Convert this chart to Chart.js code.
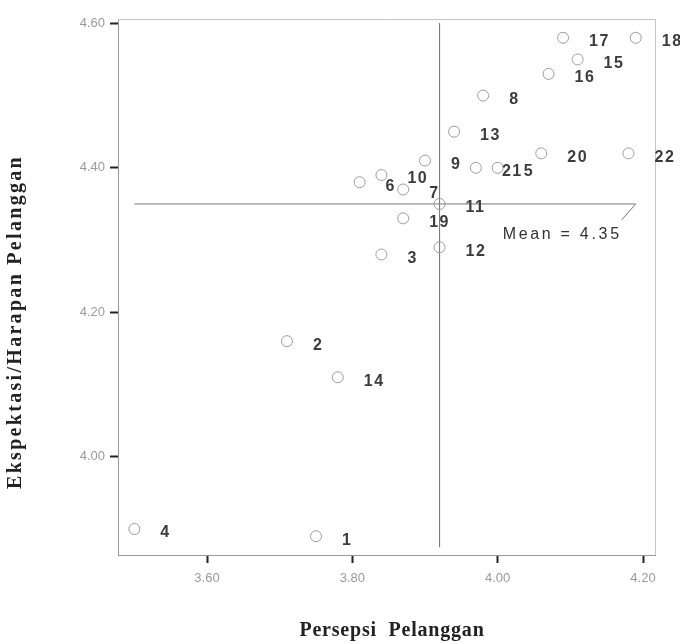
<!DOCTYPE html>
<html><head><meta charset="utf-8">
<script src="https://cdn.jsdelivr.net/npm/chart.js@4.4.1/dist/chart.umd.min.js"></script>
<style>html,body{margin:0;padding:0;background:#fff}canvas{display:block}</style>
</head><body>
<canvas id="c" width="680" height="644"></canvas>
<script>
// ---- data ----
const pointLabels = ['1','2','3','4','5','6','7','8','9','10','11','12','13','14','15','16','17','18','19','20','21','22'];
const persepsi   = [3.75,3.71,3.84,3.50,4.00,3.81,3.87,3.98,3.90,3.84,3.92,3.92,3.94,3.78,4.11,4.07,4.09,4.19,3.87,4.06,3.97,4.18];
const ekspektasi = [3.89,4.16,4.28,3.90,4.40,4.38,4.37,4.50,4.41,4.39,4.35,4.29,4.45,4.11,4.55,4.53,4.58,4.58,4.33,4.42,4.40,4.42];
const xTicks = [3.60, 3.80, 4.00, 4.20];
const yTicks = [4.00, 4.20, 4.40, 4.60];
const xRange = [3.4775, 4.2165];
const yRange = [3.864, 4.606];
const meanX = 3.92;
const meanY = 4.35;
const hLineExtent = [3.50, 4.19];
const vLineExtent = [3.875, 4.60];
const xTitle = 'Persepsi  Pelanggan';
const yTitle = 'Ekspektasi/Harapan Pelanggan';
const meanLabel = 'Mean = 4.35';

const points = persepsi.map((x, i) => ({x, y: ekspektasi[i]}));

const sansFont = '"Liberation Sans", Arial, sans-serif';
const serifFont = '"Liberation Serif", "Times New Roman", serif';

const decorPlugin = {
  id: 'decor',
  beforeDatasetsDraw(chart) {
    const {ctx, chartArea: a} = chart;
    ctx.save();
    ctx.strokeStyle = '#c4c4c4';
    ctx.lineWidth = 1;
    ctx.beginPath();
    ctx.moveTo(a.left, a.top + 0.5);
    ctx.lineTo(a.right + 0.5, a.top + 0.5);
    ctx.lineTo(a.right + 0.5, a.bottom);
    ctx.stroke();
    ctx.restore();
  },
  afterDatasetsDraw(chart) {
    const {ctx} = chart;
    const xs = chart.scales.x, ys = chart.scales.y;
    ctx.save();
    // point labels
    const meta = chart.getDatasetMeta(0);
    ctx.fillStyle = '#3c3c3c';
    ctx.font = 'bold 16px ' + sansFont;
    ctx.letterSpacing = '1.5px';
    ctx.textAlign = 'left';
    ctx.textBaseline = 'middle';
    meta.data.forEach((el, i) => {
      ctx.fillText(pointLabels[i], el.x + 26, el.y + 4);
    });
    // mean label with leader
    const ex = xs.getPixelForValue(hLineExtent[1]);
    const ey = ys.getPixelForValue(meanY);
    ctx.strokeStyle = '#777';
    ctx.lineWidth = 1;
    ctx.beginPath();
    ctx.moveTo(ex, ey);
    ctx.lineTo(ex - 14, ey + 16);
    ctx.stroke();
    ctx.font = '16px ' + sansFont;
    ctx.letterSpacing = '2.7px';
    ctx.fillStyle = '#333';
    ctx.textAlign = 'right';
    ctx.fillText(meanLabel, ex - 14, ey + 31);
    // axis titles
    ctx.fillStyle = '#222';
    ctx.font = 'bold 20px ' + serifFont;
    ctx.textAlign = 'center';
    ctx.letterSpacing = '0.8px';
    ctx.fillText(xTitle, 392, 631);
    ctx.translate(16, 322);
    ctx.rotate(-Math.PI / 2);
    ctx.letterSpacing = '2.3px';
    ctx.fillText(yTitle, 0, 0);
    ctx.restore();
  }
};

new Chart(document.getElementById('c'), {
  type: 'scatter',
  data: {
    datasets: [
      {
        data: points,
        pointStyle: 'circle',
        pointRadius: 5.5,
        borderColor: '#9c9c9c',
        backgroundColor: 'rgba(255,255,255,0)',
        borderWidth: 1,
        order: 0
      },
      {
        data: [{x: hLineExtent[0], y: meanY}, {x: hLineExtent[1], y: meanY}],
        showLine: true, pointRadius: 0, borderColor: '#7a7a7a', borderWidth: 1, order: 1
      },
      {
        data: [{x: meanX, y: vLineExtent[1]}, {x: meanX, y: vLineExtent[0]}],
        showLine: true, pointRadius: 0, borderColor: '#7a7a7a', borderWidth: 1, order: 1
      }
    ]
  },
  options: {
    responsive: false,
    animation: false,
    layout: {padding: {top: 19, right: 25, left: 0, bottom: 0}},
    plugins: {legend: {display: false}, tooltip: {enabled: false}},
    scales: {
      x: {
        type: 'linear', position: 'bottom',
        min: xRange[0], max: xRange[1],
        afterBuildTicks: s => { s.ticks = xTicks.map(v => ({value: v})); },
        afterFit: s => { s.height = 89; },
        ticks: {callback: v => Number(v).toFixed(2), color: '#9a9a9a', font: {family: sansFont, size: 13}, padding: 8, maxRotation: 0, autoSkip: false},
        grid: {drawOnChartArea: false, drawTicks: true, tickLength: 8, tickColor: '#222', tickWidth: 2},
        border: {display: true, color: '#999', width: 1}
      },
      y: {
        type: 'linear', position: 'left',
        min: yRange[0], max: yRange[1],
        afterBuildTicks: s => { s.ticks = yTicks.map(v => ({value: v})); },
        afterFit: s => { s.width = 118; },
        ticks: {callback: v => Number(v).toFixed(2), color: '#9a9a9a', font: {family: sansFont, size: 13}, padding: 5, autoSkip: false},
        grid: {drawOnChartArea: false, drawTicks: true, tickLength: 8, tickColor: '#222', tickWidth: 2},
        border: {display: true, color: '#999', width: 1}
      }
    }
  },
  plugins: [decorPlugin]
});
</script>
</body></html>
